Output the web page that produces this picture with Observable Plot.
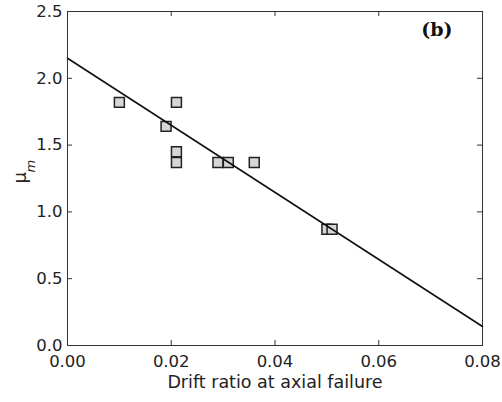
<!DOCTYPE html>
<html>
<head>
<meta charset="utf-8">
<script src="https://cdn.jsdelivr.net/npm/d3@7"></script>
<script src="https://cdn.jsdelivr.net/npm/@observablehq/plot@0.6"></script>
<style>
  html, body { margin: 0; padding: 0; background: #fff; }
  #chart { width: 502px; height: 402px; }
</style>
</head>
<body>
<div id="chart"></div>
<script>
// Data
const driftRatio = [0.010, 0.021, 0.019, 0.021, 0.021, 0.029, 0.031, 0.036, 0.050, 0.051];
const muM        = [1.82,  1.82,  1.64,  1.45,  1.37,  1.37,  1.37,  1.37,  0.87,  0.87];
const fitX = [0.0, 0.08];
const fitY = [2.15, 0.142];
const xTicks = [0, 0.02, 0.04, 0.06, 0.08];
const yTicks = [0, 0.5, 1.0, 1.5, 2.0, 2.5];
const xLabel = "Drift ratio at axial failure";
const panelLabel = "(b)";

const points = driftRatio.map((x, i) => ({x, y: muM[i]}));
const fit = fitX.map((x, i) => ({x, y: fitY[i]}));

const W = 502, H = 402;
const mL = 67, mR = 20, mT = 11, mB = 57;
const pw = W - mL - mR, ph = H - mT - mB;
const tick = 5;
const ink = "#333";

const chart = Plot.plot({
  width: W, height: H,
  marginLeft: mL, marginRight: mR, marginTop: mT, marginBottom: mB,
  style: {fontFamily: "DejaVu Sans", fontSize: "16.5px", color: "#222", background: "#fff"},
  x: {domain: [0, 0.08], ticks: xTicks, tickFormat: d3.format(".2f")},
  y: {domain: [0, 2.5], ticks: yTicks, tickFormat: d3.format(".1f")},
  marks: [
    Plot.axisX({ticks: xTicks, tickFormat: d3.format(".2f"), tickSize: 0, tickPadding: 10, label: null}),
    Plot.axisY({ticks: yTicks, tickFormat: d3.format(".1f"), tickSize: 0, tickPadding: 5, label: null}),
    // inward ticks on all four sides
    Plot.tickX(xTicks, {x: d => d, insetTop: ph - tick, stroke: ink}),
    Plot.tickX(xTicks, {x: d => d, insetBottom: ph - tick, stroke: ink}),
    Plot.tickY(yTicks, {y: d => d, insetRight: pw - tick, stroke: ink}),
    Plot.tickY(yTicks, {y: d => d, insetLeft: pw - tick, stroke: ink}),
    Plot.frame({stroke: ink, strokeWidth: 1}),
    Plot.dot(points, {x: "x", y: "y", symbol: "square", r: 5.6, fill: "#d6d6d6", stroke: "#222", strokeWidth: 1.5}),
    Plot.line(fit, {x: "x", y: "y", stroke: "#111", strokeWidth: 1.6}),
    Plot.text([panelLabel], {frameAnchor: "top-right", dx: -30, dy: 11, fontFamily: "DejaVu Serif", fontWeight: "bold", fontSize: 19, fill: "#111"}),
    Plot.text([xLabel], {frameAnchor: "bottom", dy: 42, fontSize: 17.5, fill: "#222"}),
    Plot.text(["μ"], {frameAnchor: "left", dx: -47, dy: 5, rotate: -90, fontSize: 18, fill: "#222"}),
    Plot.text(["m"], {frameAnchor: "left", dx: -37, dy: -6, rotate: -90, fontSize: 13, fontStyle: "italic", fill: "#222"})
  ]
});
document.getElementById("chart").appendChild(chart);
</script>
</body>
</html>
